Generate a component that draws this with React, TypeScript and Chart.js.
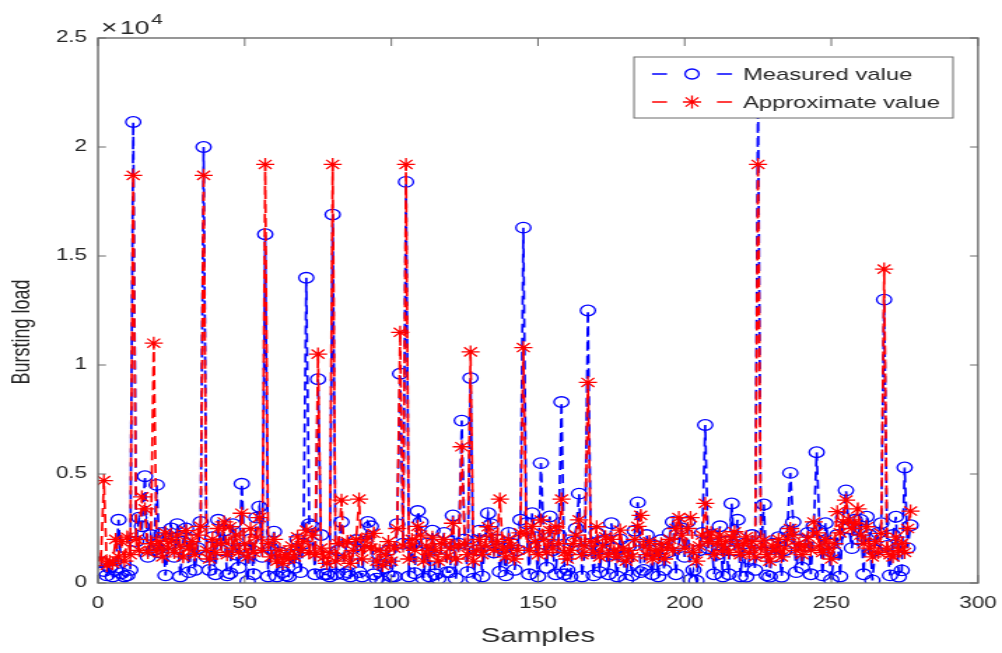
import React, { useEffect, useRef } from 'react';
import { Chart, registerables } from 'chart.js';

Chart.register(...registerables);

// ---------- data ----------
const measuredValues: number[] = [
  950, 550, 350, 700, 300, 600, 2900, 450, 300, 350,
  600, 21150, 1900, 3000, 2600, 4900, 1200, 2200, 1500, 4500,
  1400, 2300, 350, 1800, 2500, 1200, 2700, 300, 1900, 2500,
  500, 2000, 600, 1600, 2800, 20000, 1200, 600, 2100, 400,
  2900, 1500, 2400, 350, 450, 2700, 1300, 700, 4550, 1500,
  80, 2000, 400, 3000, 3500, 1200, 16000, 300, 1600, 2350,
  300, 1400, 500, 350, 300, 1300, 700, 2000, 500, 1800,
  14000, 2700, 2600, 400, 9350, 2200, 400, 400, 300, 16900,
  400, 1500, 2800, 400, 500, 300, 1600, 1970, 500, 300,
  1900, 2800, 2600, 400, 200, 1300, 80, 700, 1500, 300,
  300, 2700, 9600, 1800, 18400, 300, 1800, 450, 3300, 2800,
  200, 1800, 300, 2400, 400, 200, 1600, 2300, 500, 500,
  3100, 200, 1800, 7450, 2000, 500, 9400, 200, 1500, 2400,
  300, 1900, 3200, 2700, 1400, 2000, 520, 1600, 350, 2300,
  1800, 600, 1500, 2900, 16300, 2740, 400, 3200, 2100, 300,
  5500, 1800, 700, 3050, 1500, 400, 2200, 8300, 400, 600,
  290, 1900, 2500, 4100, 300, 1500, 12500, 1800, 350, 2300,
  500, 1600, 2000, 400, 2740, 1300, 300, 2000, 1200, 150,
  1700, 350, 2400, 3700, 500, 600, 2200, 1500, 400, 1700,
  300, 1970, 600, 1400, 2300, 2800, 400, 1800, 2500, 1200,
  2800, 150, 600, 100, 1500, 2300, 7250, 1600, 2200, 400,
  1300, 2600, 300, 1900, 400, 3650, 1500, 2900, 300, 1800,
  290, 1100, 2200, 600, 22500, 1400, 3600, 350, 290, 1800,
  1200, 2100, 290, 1500, 2400, 5050, 2800, 500, 2000, 700,
  1700, 2300, 400, 2600, 6000, 2400, 350, 2740, 1800, 150,
  1400, 2200, 300, 3000, 4250, 2500, 1600, 2900, 2000, 2890,
  400, 3040, 2200, 120, 1500, 2300, 2740, 13000, 1700, 350,
  2200, 3040, 290, 580, 5300, 1600, 2650,
];

const approximateValues: number[] = [
  1100, 4700, 800, 1000, 900, 2000, 1200, 1900, 1000, 2100,
  1300, 18700, 2000, 1500, 3950, 3400, 1400, 1800, 11000, 1500,
  1900, 1200, 2300, 1600, 2000, 1400, 2200, 1700, 1200, 2400,
  1600, 1900, 1300, 2200, 2600, 18700, 1500, 1100, 2000, 1400,
  2500, 1800, 2800, 1300, 2580, 1600, 2200, 1400, 3200, 1800,
  1200, 2500, 1400, 2100, 3000, 1500, 19200, 1820, 1200, 2000,
  1000, 1500, 900, 1300, 1100, 1700, 1200, 2120, 1500, 1900,
  2430, 1400, 2200, 1300, 10500, 1600, 1200, 900, 1400, 19200,
  1000, 1800, 3800, 1200, 1900, 900, 1500, 2000, 3850, 1100,
  1700, 2100, 1600, 2280, 1000, 1500, 800, 1300, 1900, 1000,
  1600, 2500, 11500, 1700, 19200, 1100, 2000, 1500, 2600, 2200,
  1000, 1700, 1300, 2100, 1500, 1000, 1800, 2000, 1200, 1600,
  2740, 1100, 1700, 6250, 1800, 1300, 10600, 1000, 1500, 2000,
  1300, 1700, 2580, 2200, 1500, 1900, 3850, 1600, 1200, 2000,
  1700, 1100, 1500, 2300, 10800, 2280, 1500, 2600, 1900, 1300,
  2890, 2000, 1400, 2400, 1600, 2580, 1800, 3850, 1400, 1100,
  1500, 1800, 2200, 2900, 1300, 1700, 9200, 1900, 1400, 2580,
  1200, 1700, 2120, 1300, 2000, 1500, 1200, 2430, 1600, 1000,
  1500, 1200, 2000, 2600, 3100, 1700, 1300, 1900, 1100, 1500,
  1300, 1800, 1100, 1600, 2000, 1500, 2500, 3000, 2200, 1600,
  2500, 3000, 1400, 1000, 1700, 2200, 3650, 1900, 2300, 1300,
  1800, 2200, 1500, 1900, 1400, 2100, 2350, 1700, 1300, 1800,
  2120, 1400, 1900, 1200, 19200, 1600, 1970, 1300, 1000, 1700,
  1500, 2000, 1200, 1600, 2000, 2500, 2200, 1500, 1800, 1300,
  1700, 2100, 1500, 2800, 2300, 1700, 1400, 2000, 1600, 1100,
  1800, 3270, 2300, 2800, 3800, 2900, 2500, 2740, 3400, 2200,
  1800, 2580, 1600, 1200, 1900, 1400, 2280, 14400, 1600, 1300,
  1200, 2100, 1500, 1820, 1400, 2500, 3300,
];

const seriesNames = ['Measured value', 'Approximate value'];
const xTickValues = [0, 50, 100, 150, 200, 250, 300];
const yTickValues = [0, 5000, 10000, 15000, 20000, 25000];
const yTickLabels = ['0', '0.5', '1', '1.5', '2', '2.5'];
const xTitle = 'Samples';
const yTitle = 'Bursting load';
const exponentTimes = '\u00D7';
const exponentBase = '10';
const exponentPower = '4';

// ---------- layout (reference pixels, stretched horizontally) ----------
const OUT_W = 1002;
const OUT_H = 653;
const W = 716;
const SX = OUT_W / W;
const FONT = "'Liberation Sans', Arial, Helvetica, sans-serif";
const TEXT = '#262626';
const AXIS = '#6b6b6b';
const BLUE = '#0000ff';
const RED = '#ff0000';

const rx = (v: number) => v / SX;

function drawStar(ctx: CanvasRenderingContext2D, x: number, y: number, r: number) {
  ctx.beginPath();
  ctx.moveTo(x - r, y); ctx.lineTo(x + r, y);
  ctx.moveTo(x, y - r); ctx.lineTo(x, y + r);
  const d = r * Math.SQRT1_2;
  ctx.moveTo(x - d, y - d); ctx.lineTo(x + d, y + d);
  ctx.moveTo(x - d, y + d); ctx.lineTo(x + d, y - d);
  ctx.stroke();
}

const decorPlugin = {
  id: 'matlabDecor',
  afterDraw(chart: any) {
    const ctx: CanvasRenderingContext2D = chart.ctx;
    const a = chart.chartArea;
    const xs = chart.scales.x;
    const ys = chart.scales.y;
    ctx.save();
    // box
    ctx.strokeStyle = AXIS;
    ctx.lineWidth = 1.4;
    ctx.setLineDash([]);
    ctx.strokeRect(a.left, a.top, a.right - a.left, a.bottom - a.top);
    // inner ticks
    ctx.lineWidth = 1;
    ctx.beginPath();
    xTickValues.forEach((v) => {
      const px = xs.getPixelForValue(v);
      ctx.moveTo(px, a.bottom); ctx.lineTo(px, a.bottom - 8);
      ctx.moveTo(px, a.top); ctx.lineTo(px, a.top + 8);
    });
    yTickValues.forEach((v) => {
      const py = ys.getPixelForValue(v);
      ctx.moveTo(a.left, py); ctx.lineTo(a.left + rx(8), py);
      ctx.moveTo(a.right, py); ctx.lineTo(a.right - rx(8), py);
    });
    ctx.stroke();

    // y axis title
    ctx.fillStyle = TEXT;
    ctx.save();
    ctx.translate(rx(23), 332);
    ctx.rotate(-Math.PI / 2);
    ctx.textAlign = 'center';
    ctx.textBaseline = 'middle';
    ctx.font = `18px ${FONT}`;
    ctx.fillText(yTitle, 0, 0);
    ctx.restore();

    // exponent label
    ctx.textBaseline = 'alphabetic';
    ctx.textAlign = 'left';
    ctx.font = `20px ${FONT}`;
    ctx.fillText(exponentTimes, rx(101), 34);
    ctx.font = `19px ${FONT}`;
    ctx.fillText(exponentBase, rx(120), 34);
    ctx.font = `15px ${FONT}`;
    ctx.fillText(exponentPower, rx(151), 24);

    // legend
    const L = rx(634), R = rx(953), T = 57, B = 118;
    ctx.fillStyle = '#ffffff';
    ctx.fillRect(L, T, R - L, B - T);
    ctx.strokeStyle = AXIS;
    ctx.lineWidth = 1;
    ctx.strokeRect(L, T, R - L, B - T);
    const rows = [
      { y: 74, color: BLUE, kind: 'circle', label: seriesNames[0] },
      { y: 102, color: RED, kind: 'star', label: seriesNames[1] },
    ];
    rows.forEach((row) => {
      ctx.strokeStyle = row.color;
      ctx.lineWidth = 1.5;
      ctx.beginPath();
      ctx.moveTo(rx(652), row.y); ctx.lineTo(rx(667), row.y);
      ctx.moveTo(rx(717), row.y); ctx.lineTo(rx(732), row.y);
      ctx.stroke();
      ctx.lineWidth = 1.3;
      if (row.kind === 'circle') {
        ctx.beginPath();
        ctx.arc(rx(692), row.y, 5, 0, Math.PI * 2);
        ctx.stroke();
      } else {
        drawStar(ctx, rx(692), row.y, 6.5);
      }
      ctx.fillStyle = TEXT;
      ctx.font = `17px ${FONT}`;
      ctx.textBaseline = 'middle';
      ctx.fillText(row.label, rx(743), row.y + 1);
    });
    ctx.restore();
  },
};

export default function App() {
  const ref = useRef<HTMLCanvasElement | null>(null);

  useEffect(() => {
    if (!ref.current) return;
    const toPoints = (arr: number[]) => arr.map((v, i) => ({ x: i + 1, y: v }));
    const chart = new Chart(ref.current, {
      type: 'line',
      data: {
        datasets: [
          {
            label: seriesNames[1],
            data: toPoints(approximateValues),
            borderColor: RED,
            borderWidth: 1.7,
            borderDash: [9, 5],
            pointStyle: 'star',
            pointRadius: 6.5,
            pointBorderColor: RED,
            pointBackgroundColor: 'rgba(0,0,0,0)',
            pointBorderWidth: 1.3,
            fill: false,
            tension: 0,
            order: 0,
          },
          {
            label: seriesNames[0],
            data: toPoints(measuredValues),
            borderColor: BLUE,
            borderWidth: 1.7,
            borderDash: [9, 5],
            pointStyle: 'circle',
            pointRadius: 5.3,
            pointBorderColor: BLUE,
            pointBackgroundColor: 'rgba(0,0,0,0)',
            pointBorderWidth: 1.3,
            fill: false,
            tension: 0,
            order: 1,
          },
        ],
      },
      options: {
        responsive: false,
        animation: false,
        devicePixelRatio: 1,
        events: [],
        layout: { padding: { left: 0, right: W - rx(978), top: 38, bottom: 0 } },
        plugins: { legend: { display: false }, tooltip: { enabled: false } },
        scales: {
          x: {
            type: 'linear',
            min: 0,
            max: 300,
            afterBuildTicks: (s: any) => { s.ticks = xTickValues.map((v) => ({ value: v })); },
            afterFit: (s: any) => { s.height = OUT_H - 583; s.paddingLeft = 0; s.paddingRight = 0; },
            grid: { display: false, drawTicks: false },
            border: { display: false },
            ticks: { color: TEXT, padding: 11, maxRotation: 0, autoSkip: false, font: { family: FONT, size: 16 } },
            title: { display: true, text: xTitle, color: TEXT, font: { family: FONT, size: 21 }, padding: { top: 0, bottom: 4 } },
          },
          y: {
            type: 'linear',
            min: 0,
            max: 25000,
            afterBuildTicks: (s: any) => { s.ticks = yTickValues.map((v) => ({ value: v })); },
            afterFit: (s: any) => { s.width = rx(98); s.paddingTop = 0; s.paddingBottom = 0; },
            grid: { display: false, drawTicks: false },
            border: { display: false },
            ticks: {
              color: TEXT,
              padding: rx(11),
              autoSkip: false,
              font: { family: FONT, size: 16 },
              callback: (v: any) => {
                const i = yTickValues.indexOf(Number(v));
                return i >= 0 ? yTickLabels[i] : '';
              },
            },
            title: { display: false },
          },
        },
      },
      plugins: [decorPlugin],
    } as any);
    return () => chart.destroy();
  }, []);

  return (
    <div style={{ position: 'fixed', left: 0, top: 0, width: OUT_W, height: OUT_H, background: '#fff' }}>
      <canvas ref={ref} width={W} height={OUT_H} style={{ width: `${OUT_W}px`, height: `${OUT_H}px`, display: 'block' }} />
    </div>
  );
}
